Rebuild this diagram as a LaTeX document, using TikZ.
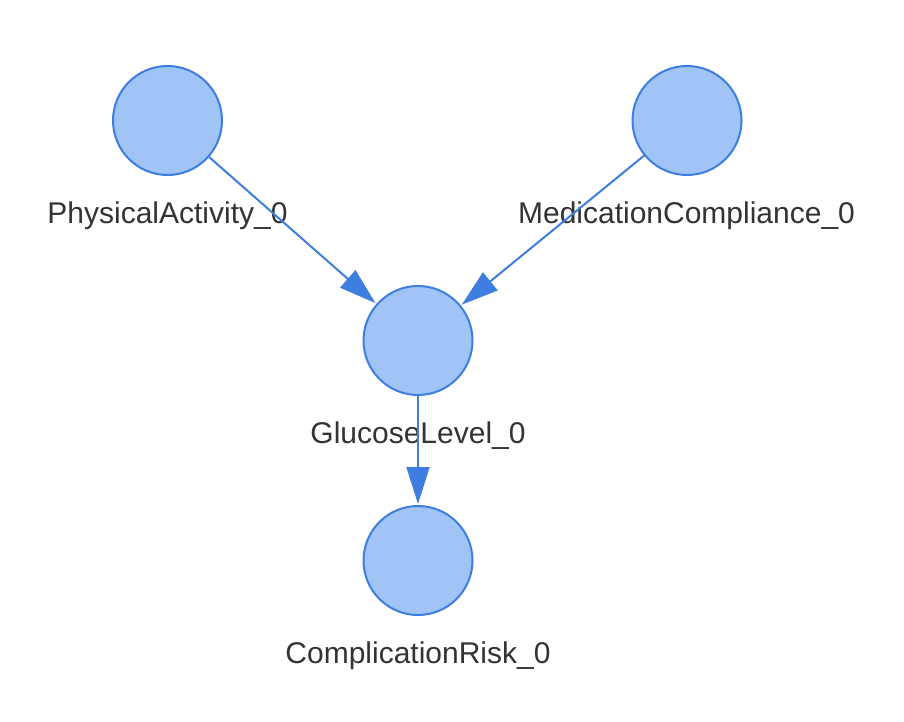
\documentclass[tikz,border=0pt]{standalone}
\usepackage{fontspec}
\setmainfont{Liberation Sans}
\usetikzlibrary{arrows.meta}
\definecolor{nodefill}{HTML}{A0C4F6}
\definecolor{nodeline}{HTML}{3D7EE0}
\definecolor{labeltext}{HTML}{333333}
\begin{document}
\begin{tikzpicture}[x=1pt,y=-1pt,
  var/.style={circle,draw=nodeline,fill=nodefill,line width=2pt,minimum size=109pt,inner sep=0pt},
  lbl/.style={text=labeltext,font=\fontsize{30}{36}\selectfont,inner sep=0pt,anchor=base},
  edge/.style={draw=nodeline,line width=2pt,-{Triangle[length=37pt,width=23pt]},shorten >=1pt}]
\useasboundingbox (0,0) rectangle (904,722);
\node[var] (pa) at (167.5,120.5) {};
\node[var] (mc) at (687,120.5) {};
\node[var] (gl) at (418,340.5) {};
\node[var] (cr) at (418,560.5) {};
\node[lbl] (lpa) at (167.5,223) {PhysicalActivity\_0};
\node[lbl] (lmc) at (686.5,223) {MedicationCompliance\_0};
\node[lbl] (lgl) at (418,443) {GlucoseLevel\_0};
\node[lbl] (lcr) at (418,663) {ComplicationRisk\_0};
\draw[edge] (pa) -- (gl);
\draw[edge] (mc) -- (gl);
\draw[edge] (gl) -- (cr);
\end{tikzpicture}
\end{document}
